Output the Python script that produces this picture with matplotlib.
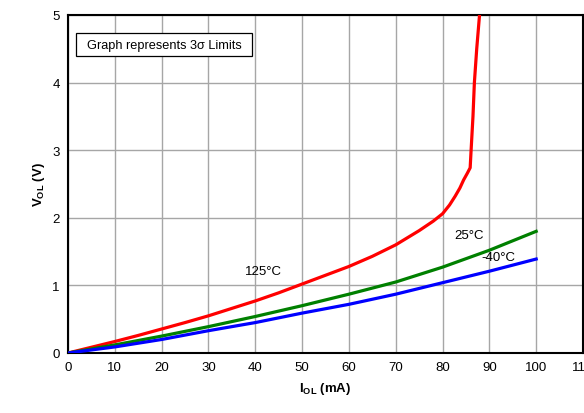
import matplotlib
matplotlib.use("Agg")
import matplotlib.pyplot as plt
from matplotlib.patches import Rectangle

plt.rcParams['font.family'] = ['Liberation Sans', 'DejaVu Sans']
plt.rcParams['mathtext.fontset'] = 'custom'
plt.rcParams['mathtext.rm'] = 'Liberation Sans'
plt.rcParams['mathtext.bf'] = 'Liberation Sans:bold'

# VOL vs IOL
x_red = [0, 5, 10, 15, 20, 25, 30, 35, 40, 45, 50, 55, 60, 65, 70, 75, 78, 80, 81.5,
         82.7, 83.7, 84.5, 85.3, 85.9, 86.1, 86.5, 86.8, 87.3, 87.9]
y_red = [0, 0.085, 0.17, 0.26, 0.355, 0.45, 0.55, 0.66, 0.77, 0.89, 1.02, 1.15, 1.28, 1.43,
         1.60, 1.81, 1.95, 2.06, 2.19, 2.32, 2.44, 2.56, 2.66, 2.74, 3.0, 3.5, 4.0, 4.5, 5.0]

x_temp = [0, 10, 20, 30, 40, 50, 60, 70, 80, 90, 100]
y_green = [0, 0.12, 0.25, 0.39, 0.54, 0.70, 0.87, 1.05, 1.27, 1.52, 1.80]
y_blue = [0, 0.09, 0.20, 0.33, 0.45, 0.59, 0.72, 0.87, 1.04, 1.21, 1.39]

x_ticks = [0, 10, 20, 30, 40, 50, 60, 70, 80, 90, 100, 110]
y_ticks = [0, 1, 2, 3, 4, 5]

fig = plt.figure(figsize=(5.84, 4.14), dpi=100)
ax = fig.add_axes([68 / 584, 1 - 354 / 414, 515 / 584, 338 / 414])

ax.plot(x_red, y_red, color='#ff0000', linewidth=2.3, zorder=3, solid_joinstyle='round')
ax.plot(x_temp, y_green, color='#008000', linewidth=2.3, zorder=3, solid_joinstyle='round')
ax.plot(x_temp, y_blue, color='#0000ff', linewidth=2.3, zorder=3, solid_joinstyle='round')

ax.set_xlim(0, 110)
ax.set_ylim(0, 5)
ax.set_xticks(x_ticks)
ax.set_yticks(y_ticks)
ax.grid(True, color='#a6a6a6', linewidth=1.0)
ax.set_axisbelow(True)
ax.tick_params(length=0, labelsize=9.5, pad=6)
for s in ax.spines.values():
    s.set_linewidth(1.5)
    s.set_color('black')

ax.set_xlabel(r'I$_{\mathbf{OL}}$ (mA)', fontsize=9.5, fontweight='bold', labelpad=5)
ax.set_ylabel(r'V$_{\mathbf{OL}}$ (V)', fontsize=9.5, fontweight='bold', labelpad=4)

# note box
ax.add_patch(Rectangle((1.65, 4.39), 37.6, 0.34, facecolor='white', edgecolor='black',
                       linewidth=0.9, zorder=4))
ax.text(4.0, 4.56, 'Graph represents 3σ Limits', fontsize=9.2, va='center', ha='left', zorder=5)

ax.text(41.7, 1.22, '125°C', fontsize=9.5, ha='center', va='center')
ax.text(85.7, 1.75, '25°C', fontsize=9.5, ha='center', va='center')
ax.text(92.0, 1.42, '-40°C', fontsize=9.5, ha='center', va='center')

plt.savefig('out.png', dpi=100)
plt.close()
